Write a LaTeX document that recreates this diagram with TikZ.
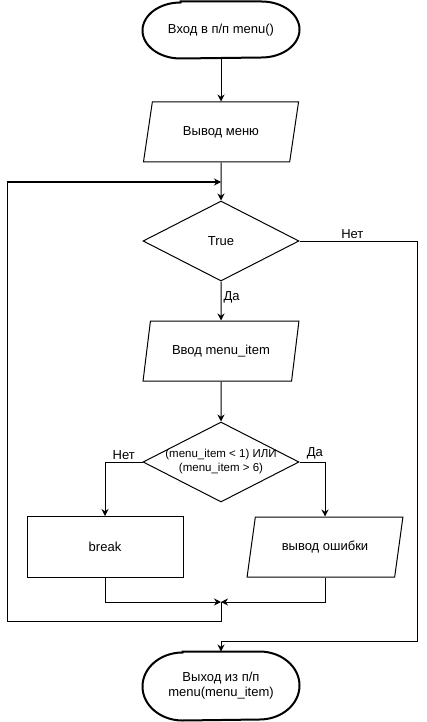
\documentclass[tikz,border=0pt]{standalone}
\usepackage{fontspec}
\setmainfont{Liberation Sans}
\usetikzlibrary{shapes.geometric,arrows.meta}

\tikzset{
  base/.style={draw, line width=1pt, inner sep=2pt, align=center,
    font=\fontsize{13}{15}\selectfont},
  term/.style={base, draw=none, rectangle, minimum width=156, minimum height=56},
  io/.style={base, trapezium, trapezium left angle=71.6, trapezium right angle=108.4,
    trapezium stretches=true, minimum width=156, minimum height=60},
  cond/.style={base, diamond, inner sep=0pt, minimum width=156, minimum height=80},
  proc/.style={base, rectangle, minimum width=156, minimum height=61},
  lbl/.style={font=\fontsize{13}{15}\selectfont, inner sep=2pt}
}
% frame of a terminator: flat sides, elliptic ends
\newcommand{\termframe}[3]{%
  \draw[line width=2pt] ([xshift=#2]#1.north west) -- ([xshift=-#2]#1.north east)
    arc[start angle=90, end angle=-90, x radius=#2, y radius=#3]
    -- ([xshift=#2]#1.south west)
    arc[start angle=270, end angle=90, x radius=#2, y radius=#3] -- cycle;}

\begin{document}
\begin{tikzpicture}[x=1pt, y=-1pt, line width=1pt, >={Stealth[length=7pt, width=7pt]}]
\useasboundingbox (0,0) rectangle (426,722);

% blocks
\node[term] (start) at (221,30) {Вход в п/п menu()};
\termframe{start}{38pt}{28pt}
\node[io] (out) at (221,132) {Вывод меню};
\node[cond] (loop) at (221,241) {True};
\node[io] (inp) at (221,351) {Ввод menu\_item};
\node[cond, label={[lbl, align=center, font=\fontsize{11.5}{14}\selectfont]center:(menu\_item < 1) ИЛИ\\(menu\_item > 6)}] (check) at (221,462) {};
\node[proc] (brk) at (105,547) {break};
\node[io] (err) at (325,547) {вывод ошибки};
\node[term, minimum height=68] (stop) at (221,686) {Выход из п/п\\menu(menu\_item)};
\termframe{stop}{40pt}{34pt}

\coordinate (back) at (221,182);
\coordinate (join) at (221,602);
\coordinate (loopbl) at (7,621);
\coordinate (exitr) at (417,641);

% connectors
\draw[->] (start) -- (out);
\draw[->] (out) -- (loop);
\draw[->] (loop.south) -- node[lbl, right, pos=0.4] {Да} (inp.north);
\draw[->] (loop.east) -| node[lbl, above, pos=0.225] {Нет} (exitr) -| (stop.north);
\draw[->] (inp) -- (check);
\draw[->] (check.west) -| node[lbl, above, pos=0.25] {Нет} (brk.north);
\draw[->] (check.east) -| node[lbl, above, pos=0.3] {Да} (err.north);
\draw[->] (brk.south) |- (join);
\draw[->] (err.south) |- (join);
\draw[->] (join) |- (loopbl) |- (back);
\end{tikzpicture}
\end{document}
